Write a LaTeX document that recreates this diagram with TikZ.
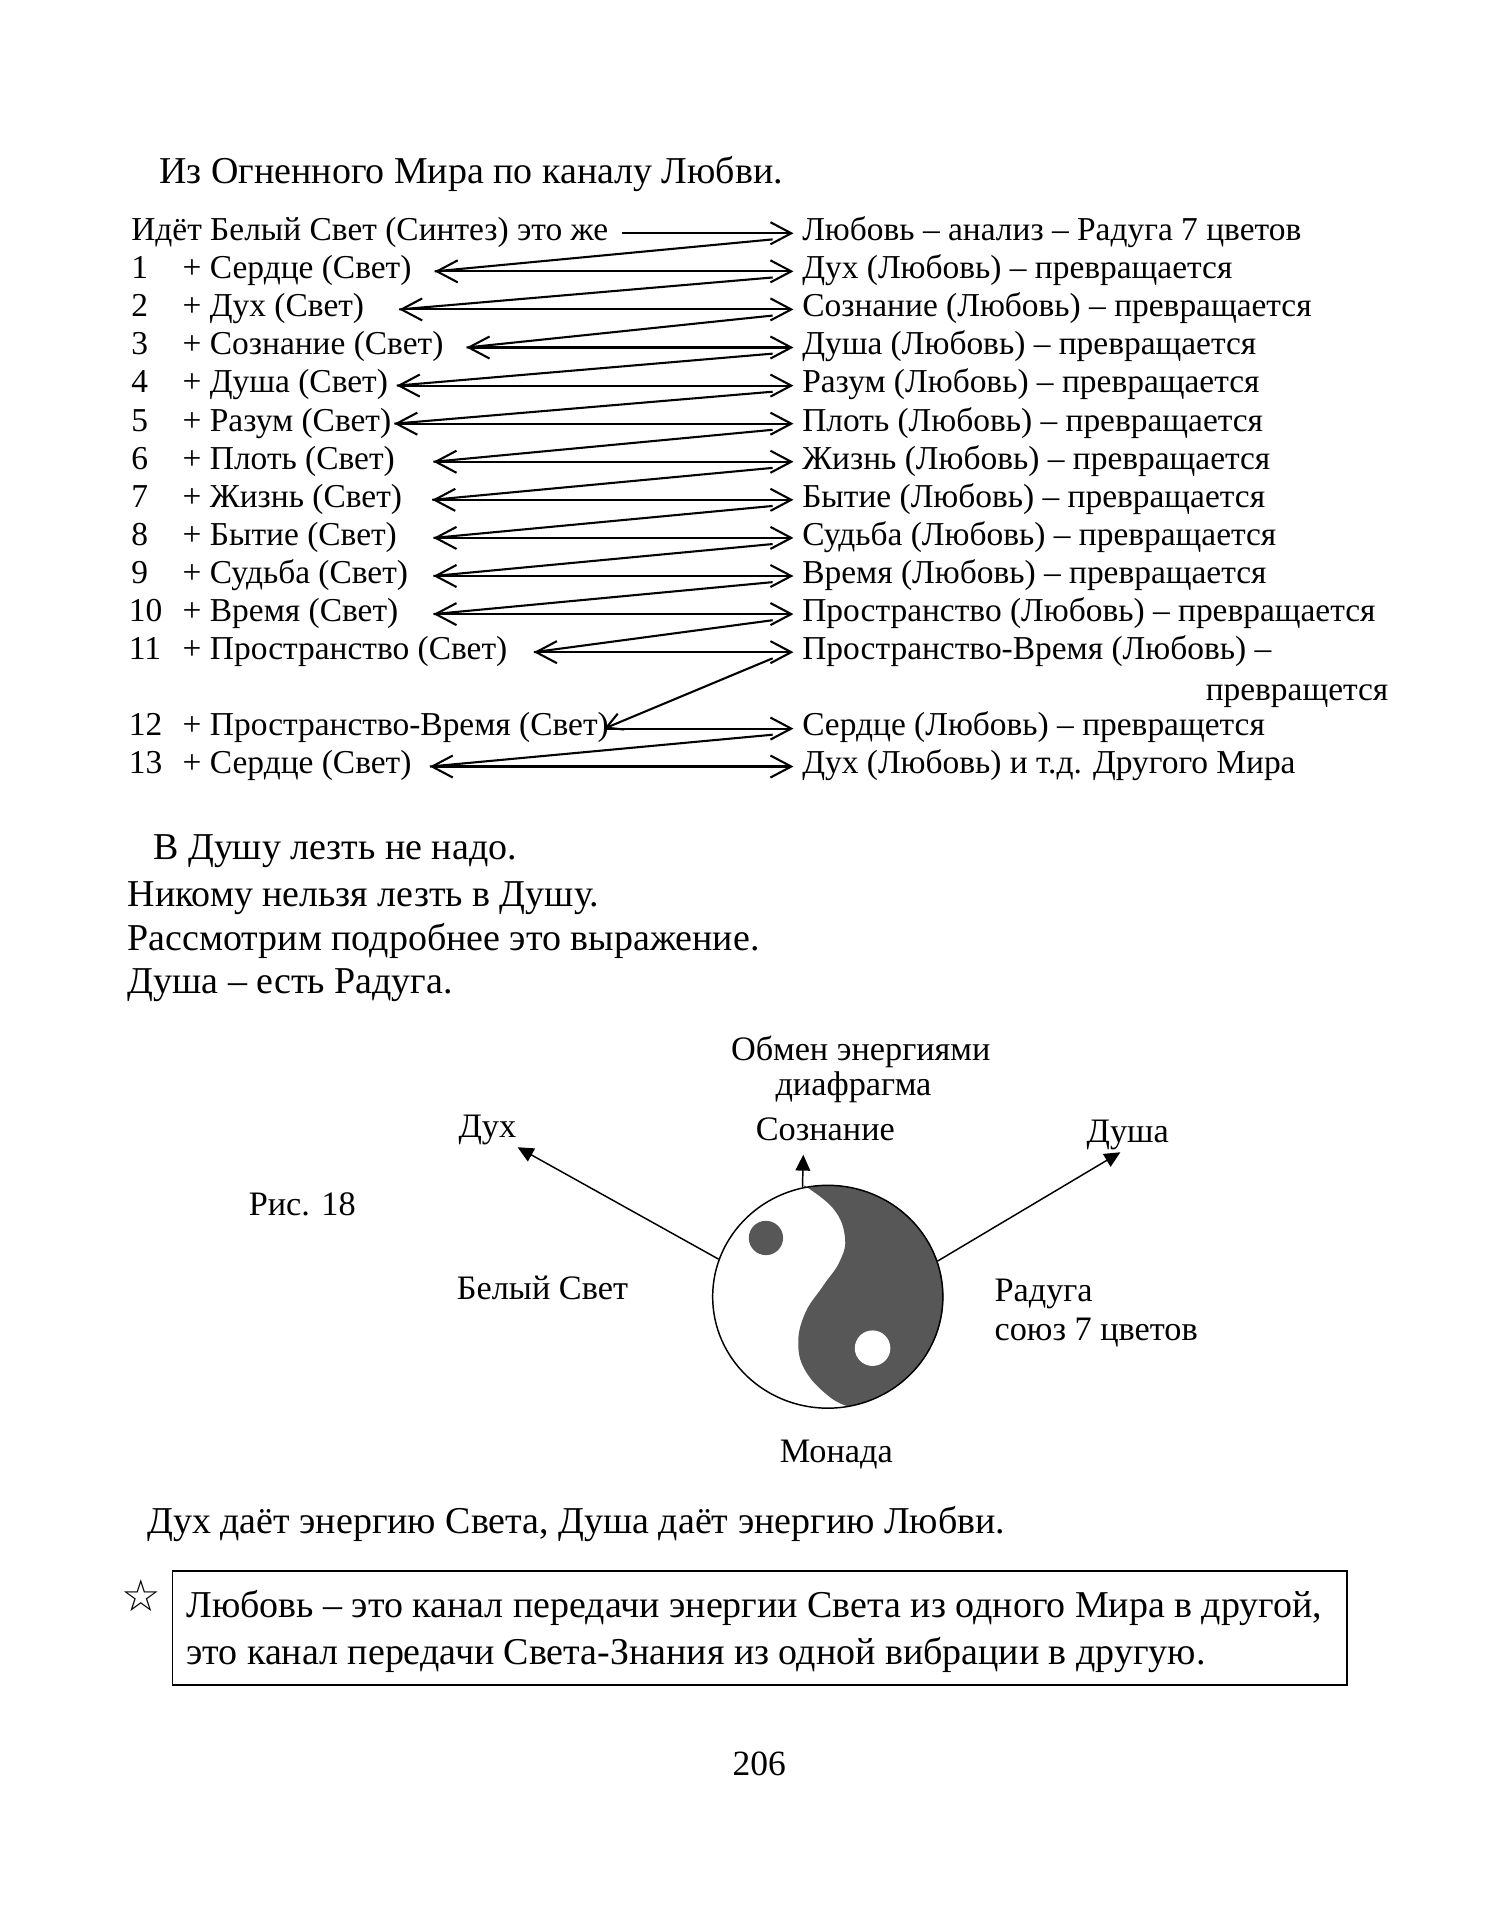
\documentclass[tikz,border=0pt]{standalone}
\usepackage{fontspec}
\setmainfont{Liberation Serif}
\newfontfamily\starfont{DejaVu Sans}
\usetikzlibrary{arrows.meta,shapes.geometric,calc}

\begin{document}
\begin{tikzpicture}[x=1pt,y=1pt,
  tbl/.style={inner sep=0pt, anchor=base west, font=\fontsize{27.3}{30}\selectfont},
  body/.style={inner sep=0pt, anchor=base west, font=\fontsize{31}{36}\selectfont},
  lab/.style={inner sep=0pt, anchor=base, font=\fontsize{28}{32}\selectfont},
  labw/.style={inner sep=0pt, anchor=base west, font=\fontsize{28}{32}\selectfont},
  link/.style={line width=1.7pt},
  dbl/.style={link, {Straight Barb[length=17pt,width=18pt]}-{Straight Barb[length=17pt,width=18pt]}},
  rgt/.style={link, -{Straight Barb[length=17pt,width=18pt]}},
  diag/.style={link},
  ray/.style={line width=1.2pt, -{Triangle[length=13pt,width=12pt]}},
  darkfill/.style={fill=black!66}
]
\useasboundingbox (0,0) rectangle (1220,-1568);
\fill[white] (0,0) rectangle (1220,-1568);

% title
\node[body] (title) at (130,-150) {Из Огненного Мира по каналу Любви.};

% table coordinates
\coordinate (S0) at (508,-190.5);
\coordinate (R0) at (648,-190.5);
\foreach \k/\lx/\y in {1/355/221.6, 2/326/252.7, 3/381/283.8, 4/324/314.9, 5/322/346,
  6/354/377.1, 7/353/408.2, 8/354/439.3, 9/354/470.4, 10/354/501.5, 11/436/532.6,
  12/493.5/595, 13/351/626}{
  \coordinate (L\k) at (\lx,-\y);
  \coordinate (R\k) at (648,-\y);
}

% left texts
\node[tbl] (l0) at (107,-196.5) {Идёт Белый Свет (Синтез) это же};
\node[tbl] (n1) at (107,-227.6) {1};
\node[tbl] (l1) at (149,-227.6) {+ Сердце (Свет)};
\node[tbl] (n2) at (107,-258.7) {2};
\node[tbl] (l2) at (149,-258.7) {+ Дух (Свет)};
\node[tbl] (n3) at (107,-289.8) {3};
\node[tbl] (l3) at (149,-289.8) {+ Сознание (Свет)};
\node[tbl] (n4) at (107,-320.9) {4};
\node[tbl] (l4) at (149,-320.9) {+ Душа (Свет)};
\node[tbl] (n5) at (107,-352) {5};
\node[tbl] (l5) at (149,-352) {+ Разум (Свет)};
\node[tbl] (n6) at (107,-383.1) {6};
\node[tbl] (l6) at (149,-383.1) {+ Плоть (Свет)};
\node[tbl] (n7) at (107,-414.2) {7};
\node[tbl] (l7) at (149,-414.2) {+ Жизнь (Свет)};
\node[tbl] (n8) at (107,-445.3) {8};
\node[tbl] (l8) at (149,-445.3) {+ Бытие (Свет)};
\node[tbl] (n9) at (107,-476.4) {9};
\node[tbl] (l9) at (149,-476.4) {+ Судьба (Свет)};
\node[tbl] (n10) at (105,-507.5) {10};
\node[tbl] (l10) at (149,-507.5) {+ Время (Свет)};
\node[tbl] (n11) at (105,-538.6) {11};
\node[tbl] (l11) at (149,-538.6) {+ Пространство (Свет)};
\node[tbl] (n12) at (105,-601) {12};
\node[tbl] (l12) at (149,-601) {+ Пространство-Время (Свет)};
\node[tbl] (n13) at (105,-632) {13};
\node[tbl] (l13) at (149,-632) {+ Сердце (Свет)};

% right texts
\node[tbl] (r0) at (655,-196.5) {Любовь – анализ – Радуга 7 цветов};
\node[tbl] (r1) at (655,-227.6) {Дух (Любовь) – превращается};
\node[tbl] (r2) at (655,-258.7) {Сознание (Любовь) – превращается};
\node[tbl] (r3) at (655,-289.8) {Душа (Любовь) – превращается};
\node[tbl] (r4) at (655,-320.9) {Разум (Любовь) – превращается};
\node[tbl] (r5) at (655,-352) {Плоть (Любовь) – превращается};
\node[tbl] (r6) at (655,-383.1) {Жизнь (Любовь) – превращается};
\node[tbl] (r7) at (655,-414.2) {Бытие (Любовь) – превращается};
\node[tbl] (r8) at (655,-445.3) {Судьба (Любовь) – превращается};
\node[tbl] (r9) at (655,-476.4) {Время (Любовь) – превращается};
\node[tbl] (r10) at (655,-507.5) {Пространство (Любовь) – превращается};
\node[tbl] (r11) at (655,-538.6) {Пространство-Время (Любовь) –};
\node[tbl, anchor=base east] (r11b) at (1134,-572) {превращется};
\node[tbl] (r12) at (655,-601) {Сердце (Любовь) – превращется};
\node[tbl] (r13) at (655,-632) {Дух (Любовь) и т.д. Другого Мира};

% arrows
\draw[rgt] (S0) -- (R0);
\foreach \k in {1,...,11,13}{\draw[dbl] (L\k) -- (R\k);}
\foreach \k/\n in {0/1,1/2,2/3,3/4,4/5,5/6,6/7,7/8,8/9,9/10,10/11,12/13}{
  \draw[diag] ($(R\k)+(-17,-5)$) -- (L\n);}
\draw[link, -{Straight Barb[length=13pt,width=14pt]}] ($(R11)+(-17,-5)$) -- (L12);
\draw[rgt] (L12) -- (R12);

% paragraphs
\node[body] (p1) at (125,-702) {В Душу лезть не надо.};
\node[body] (p2) at (104,-740) {Никому нельзя лезть в Душу.};
\node[body] (p3) at (104,-776) {Рассмотрим подробнее это выражение.};
\node[body] (p4) at (104,-811) {Душа – есть Радуга.};

% figure
\fill[darkfill] (692.8,-1148.6) arc[start angle=-80, end angle=102, x radius=94, y radius=91]
  -- plot[smooth, tension=0.7] coordinates {(656.5,-968) (680.5,-987) (690,-1009.9)
  (685.9,-1029.9) (672.3,-1050) (657.4,-1072.7) (651.9,-1098.2) (658.7,-1121)
  (677.8,-1141) (692.8,-1148.6)} -- cycle;
\node[ellipse, draw, line width=1.2pt, minimum width=188pt, minimum height=182pt, inner sep=0pt] (yy) at (676,-1059) {};
\node[circle, darkfill, minimum size=28pt, inner sep=0pt] (dotd) at (625.5,-1011) {};
\node[circle, fill=white, minimum size=29pt, inner sep=0pt] (dotw) at (712.6,-1101) {};

\coordinate (tdux) at (422.7,-936.9);
\coordinate (tdusha) at (915,-941);
\coordinate (tsoz) at (656,-943);
\draw[ray] (yy.161) -- (tdux);
\draw[ray] (yy.18) -- (tdusha);
\draw[ray] (yy.103) -- (tsoz);

\node[lab] (obmen) at (703,-866) {Обмен энергиями};
\node[lab] (diaf) at (697,-895) {диафрагма};
\node[lab] (soz) at (674,-931) {Сознание};
\node[lab] (dux) at (398,-929) {Дух};
\node[lab] (dusha) at (921,-933) {Душа};
\node[labw] (ris) at (203,-993) {Рис. 18};
\node[labw] (bel) at (373,-1061) {Белый Свет};
\node[labw] (rad) at (812,-1063) {Радуга};
\node[labw] (soyuz) at (812,-1095) {союз 7 цветов};
\node[lab] (monada) at (683,-1194) {Монада};

% closing lines
\node[body] (p5) at (120,-1252) {Дух даёт энергию Света, Душа даёт энергию Любви.};
\node[inner sep=0pt, font=\starfont\fontsize{36}{40}\selectfont] (star) at (115,-1303) {☆};
\node[draw, line width=1.2pt, minimum width=959pt, minimum height=93pt, inner sep=0pt] (box) at (620.5,-1329.5) {};
\node[body] (b1) at (152,-1321) {Любовь – это канал передачи энергии Света из одного Мира в другой,};
\node[body] (b2) at (152,-1359) {это канал передачи Света-Знания из одной вибрации в другую.};
\node[lab, font=\fontsize{29}{32}\selectfont] (page) at (620,-1450) {206};
\end{tikzpicture}
\end{document}
